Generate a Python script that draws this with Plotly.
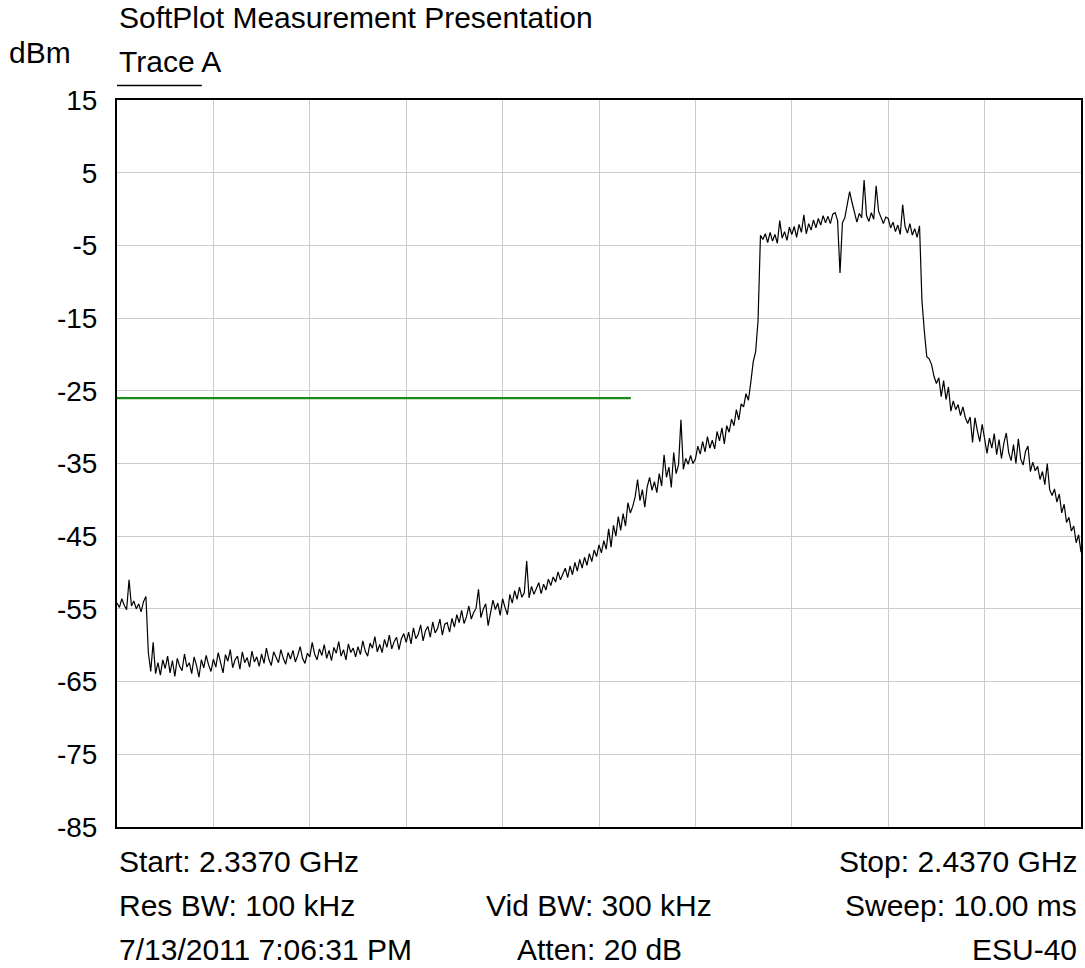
"""
Spectrum analyzer trace (SoftPlot export) redrawn with Plotly.
"""

import numpy as np
import plotly.graph_objects as go

START_MHZ = 2337.0
STOP_MHZ = 2437.0

# Trace A, dBm, 401 sweep points (0.25 MHz apart)
trace_a_dbm = [
    -54.2, -54.8, -53.6, -54.5, -55.1, -51.0, -54.6, -53.9, -55.0, -54.3, -55.4, -54.0, -53.3, -61.0, -63.6, -59.6, -63.9, -62.4, -64.1, -62.0,
    -63.2, -61.5, -63.8, -62.1, -64.3, -61.8, -62.9, -63.5, -61.2, -63.0, -62.4, -63.9, -61.6, -62.8, -64.4, -62.0, -63.1, -61.4, -62.7, -63.6,
    -61.9, -63.0, -61.0, -62.6, -63.8, -61.3, -62.2, -60.6, -63.1, -62.0, -61.5, -63.3, -60.9, -62.4, -61.7, -63.0, -60.8, -62.3, -61.6, -62.9,
    -61.2, -62.5, -60.4, -61.9, -62.8, -60.9, -61.7, -62.4, -60.6, -61.8, -62.6, -61.0, -61.9, -60.7, -62.3, -61.4, -60.2, -61.8, -62.5, -61.1,
    -61.6, -59.6, -61.2, -62.0, -60.5, -61.4, -59.9, -61.8, -60.7, -62.1, -60.3, -61.1, -59.5, -61.5, -60.6, -62.0, -59.8, -61.0, -60.4, -61.6,
    -60.2, -61.3, -59.4, -60.8, -61.5, -59.7, -60.4, -58.8, -60.9, -59.9, -61.0, -59.2, -60.3, -58.6, -60.5, -59.5, -58.9, -60.6, -59.1, -58.4,
    -59.6, -58.2, -59.8, -57.6, -59.1, -58.5, -57.2, -59.4, -58.0, -57.4, -58.9, -56.8, -58.3, -57.7, -56.4, -58.6, -57.1, -56.9, -58.2, -56.3,
    -57.5, -55.8, -56.9, -55.2, -57.0, -56.1, -54.6, -56.4, -55.5, -54.9, -52.3, -56.2, -55.0, -54.3, -57.3, -55.4, -53.8, -55.1, -54.2, -55.9,
    -53.6, -54.8, -55.8, -53.0, -54.2, -52.5, -53.7, -52.0, -53.4, -52.8, -48.4, -53.5, -51.9, -53.0, -52.2, -51.4, -52.9, -51.6, -52.4, -50.9,
    -51.8, -50.6, -51.3, -49.9, -51.0, -50.2, -49.4, -50.7, -49.1, -50.3, -48.6, -49.8, -48.2, -49.4, -47.9, -49.0, -47.4, -48.5, -46.9, -47.8,
    -46.2, -47.3, -45.6, -46.8, -44.0, -46.5, -43.5, -45.0, -42.3, -44.2, -41.9, -43.6, -40.4, -41.8, -40.9, -39.6, -37.2, -40.1, -38.6, -41.0,
    -38.2, -36.9, -38.7, -37.5, -39.0, -36.4, -38.1, -33.8, -36.9, -35.5, -38.3, -33.5, -36.4, -35.2, -29.0, -35.8, -34.3, -35.1, -33.9, -35.0,
    -34.4, -32.6, -33.7, -32.0, -33.4, -31.3, -32.9, -31.8, -33.0, -30.6, -31.9, -30.1, -32.3, -29.8, -30.7, -28.9, -29.8, -27.6, -29.0, -26.8,
    -27.2, -25.4, -26.3, -23.8, -21.0, -19.6, -15.3, -3.6, -4.2, -3.4, -4.6, -3.2, -4.4, -3.5, -4.7, -1.6, -4.0, -3.1, -4.3, -2.5,
    -3.5, -2.4, -3.9, -2.1, -3.2, -0.8, -3.4, -2.0, -2.9, -1.5, -2.6, -1.3, -2.2, -0.9, -1.9, -1.0, -2.0, -0.7, -0.5, -1.6,
    -8.8, -1.9, -1.2, 0.6, 2.4, 0.9, -0.4, -1.8, -0.6, -1.2, 4.0, -0.9, -1.7, -0.5, -1.4, 3.2, -0.3, -1.2, -2.0, -1.1,
    -1.3, -2.6, -1.8, -3.1, -2.2, -3.5, 0.6, -2.4, -3.3, -2.0, -3.6, -2.7, -3.9, -2.3, -12.6, -16.8, -20.3, -20.6, -21.4, -23.0,
    -24.0, -23.2, -25.8, -23.6, -26.2, -24.5, -27.8, -26.4, -27.6, -26.9, -28.4, -27.2, -28.7, -29.5, -28.6, -32.1, -28.7, -30.5, -32.0, -29.6,
    -31.8, -33.6, -31.5, -32.9, -30.9, -33.8, -31.7, -34.3, -32.2, -30.8, -33.5, -34.6, -32.4, -35.0, -31.6, -34.4, -35.2, -33.3, -32.6, -36.1,
    -34.8, -36.0, -35.4, -37.2, -36.1, -37.9, -35.0, -38.6, -39.4, -38.5, -40.3, -39.2, -41.8, -40.6, -43.1, -42.4, -44.3, -43.6, -45.9, -44.8,
    -47.2,
]

# display line (green), level and where it stops
display_line_dbm = -26.0
display_line_x = [2337.0, 2390.3]

y_ticks = [15, 5, -5, -15, -25, -35, -45, -55, -65, -75, -85]

footer_left = ["Start: 2.3370 GHz", "Res BW: 100 kHz", "7/13/2011 7:06:31 PM"]
footer_mid = ["", "Vid BW: 300 kHz", "Atten: 20 dB"]
footer_right = ["Stop: 2.4370 GHz", "Sweep: 10.00 ms", "ESU-40"]

FONT = "Liberation Sans, Arial, sans-serif"
W, H = 1085, 968
L, R, T, B = 117, 2, 100, 141

freqs = np.linspace(START_MHZ, STOP_MHZ, len(trace_a_dbm))

fig = go.Figure()
fig.add_trace(
    go.Scatter(
        x=display_line_x,
        y=[display_line_dbm] * len(display_line_x),
        mode="lines",
        line={"color": "#1a8a1a", "width": 2.2},
        hoverinfo="skip",
    )
)
fig.add_trace(
    go.Scatter(
        x=freqs,
        y=trace_a_dbm,
        mode="lines",
        line={"color": "#000000", "width": 1.2},
        name="Trace A",
    )
)

plot_h = H - T - B
plot_w = W - L - R


def py(pixel_y):
    return (H - B - pixel_y) / plot_h


def px(pixel_x):
    return (pixel_x - L) / plot_w


annotations = [
    dict(text="SoftPlot Measurement Presentation", x=0, y=py(18), xanchor="left"),
    dict(text="dBm", x=px(7), y=py(53), xanchor="left"),
    dict(text="Trace A", x=0, y=py(61), xanchor="left"),
]
for row, pixel_y in enumerate([861, 905, 949]):
    annotations.append(dict(text=footer_left[row], x=0, y=py(pixel_y), xanchor="left"))
    if footer_mid[row]:
        annotations.append(dict(text=footer_mid[row], x=px(600), y=py(pixel_y), xanchor="center"))
    annotations.append(dict(text=footer_right[row], x=px(1081), y=py(pixel_y), xanchor="right"))
for a in annotations:
    a.update(xref="paper", yref="paper", yanchor="middle", showarrow=False,
             font={"family": FONT, "size": 30, "color": "#000000"})

fig.update_layout(
    width=W,
    height=H,
    margin={"l": L, "r": R, "t": T, "b": B},
    paper_bgcolor="white",
    plot_bgcolor="white",
    showlegend=False,
    annotations=annotations,
    shapes=[
        dict(type="line", xref="paper", yref="paper", x0=0, x1=px(202),
             y0=py(85.5), y1=py(85.5), line={"color": "#000000", "width": 1.3}),
    ],
    font={"family": FONT, "size": 28, "color": "#000000"},
)
fig.update_xaxes(
    range=[START_MHZ, STOP_MHZ],
    dtick=10,
    tick0=START_MHZ,
    showticklabels=False,
    showgrid=True,
    gridcolor="#cccccc",
    gridwidth=1,
    showline=True,
    linecolor="#000000",
    linewidth=2,
    mirror=True,
    zeroline=False,
)
fig.update_yaxes(
    range=[-85, 15],
    tickvals=y_ticks,
    ticktext=[str(v) for v in y_ticks],
    showgrid=True,
    gridcolor="#cccccc",
    gridwidth=1,
    showline=True,
    linecolor="#000000",
    linewidth=2,
    mirror=True,
    zeroline=False,
    ticklabelstandoff=12,
    tickfont={"family": FONT, "size": 28, "color": "#000000"},
)

# the page's default body margin would shift the figure 8 px
fig.write_html(
    "out.html",
    config={"displayModeBar": False},
    post_script="document.body.style.margin = '0';",
)
